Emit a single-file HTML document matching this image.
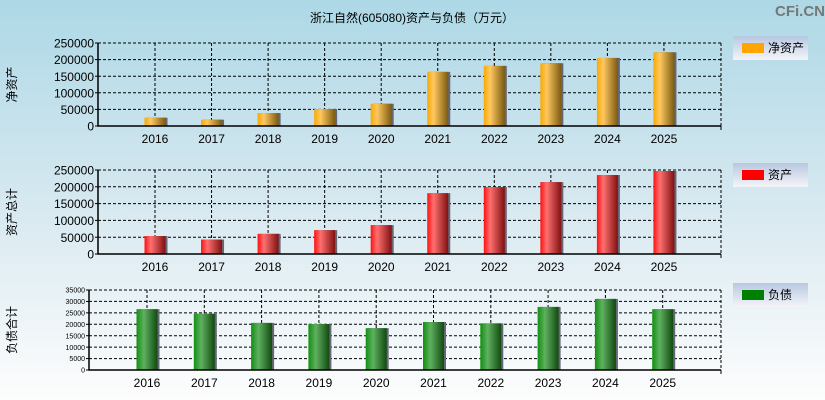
<!DOCTYPE html>
<html><head><meta charset="utf-8">
<style>
body{margin:0;width:825px;height:400px;overflow:hidden;font-family:"Liberation Sans","Noto Sans CJK SC",sans-serif;}
svg{display:block}
</style></head>
<body>
<svg id="c" width="825" height="400" xmlns="http://www.w3.org/2000/svg">
<defs>
<linearGradient id="bg" x1="0" y1="0" x2="0" y2="1">
<stop offset="0" stop-color="#add8e6"/><stop offset="0.5" stop-color="#d6e8f0"/><stop offset="1" stop-color="#fdfdfd"/></linearGradient>
<linearGradient id="lg" x1="0" y1="0" x2="0" y2="1"><stop offset="0" stop-color="#b8c8e0"/><stop offset="1" stop-color="#f4f4f8"/></linearGradient>
<linearGradient id="gO" x1="0" x2="1"><stop offset="0" stop-color="#f8a800"/><stop offset="0.3" stop-color="#ffc860"/><stop offset="1" stop-color="#7a5a10"/></linearGradient>
<linearGradient id="gR" x1="0" x2="1"><stop offset="0" stop-color="#ff1010"/><stop offset="0.3" stop-color="#ff7070"/><stop offset="1" stop-color="#801010"/></linearGradient>
<linearGradient id="gG" x1="0" x2="1"><stop offset="0" stop-color="#109010"/><stop offset="0.35" stop-color="#60b060"/><stop offset="1" stop-color="#104a10"/></linearGradient>
</defs>
<rect width="825" height="400" fill="url(#bg)"/>
<text x="412" y="22" text-anchor="middle" font-size="12">浙江自然(605080)资产与负债（万元）</text>
<text x="800" y="16" text-anchor="middle" font-size="15" font-weight="bold" fill="#777">CFi.CN</text>
<g id="plots"></g>
</svg>
<script>
const years = ['2016','2017','2018','2019','2020','2021','2022','2023','2024','2025'];
const netAssets = [25000,19000,39000,51000,67000,163000,181000,189000,205000,222000];
const totalAssets = [53500,43000,60000,71000,86000,181000,199000,214000,235000,247000];
const liabilities = [26600,24600,20600,20100,18300,21000,20400,27600,31100,26600];
const ticksBig = [0,50000,100000,150000,200000,250000];
const ticksSmall = [0,5000,10000,15000,20000,25000,30000,35000];

const NS='http://www.w3.org/2000/svg';
const root=document.getElementById('plots');
function mk(tag,attrs,parent){const e=document.createElementNS(NS,tag);for(const k in attrs)e.setAttribute(k,attrs[k]);(parent||root).appendChild(e);return e;}

function panel(cfg){
  const g=mk('g',{});
  
  
  const {x0,x1,y0,y1,max,ticks,vals,fill,first,step,bw,fs}=cfg;
  const ys=v=>y1-(v/max)*(y1-y0);
  const xs=i=>first+i*step;
  // grid
  ticks.forEach(t=>{
    if(t>0){const l=mk('line',{x1:x0,x2:x1,y1:ys(t),y2:ys(t),stroke:'#000','stroke-dasharray':'3,2','stroke-width':1},g);
    }
    const tx=mk('text',{x:x0-4,y:ys(t)+fs*0.38,'text-anchor':'end','font-size':fs,fill:'#000'},g);
    tx.textContent=t;
    
    const tk=mk('line',{x1:x0-3,x2:x0,y1:ys(t),y2:ys(t),stroke:'#000'},g);
    
  });
  years.forEach((yr,i)=>{
    const l=mk('line',{x1:xs(i),x2:xs(i),y1:y0,y2:y1,stroke:'#000','stroke-dasharray':'3,2'},g);
    
  });
  mk('line',{x1:x1,x2:x1,y1:y0,y2:y1+4,stroke:'#000','stroke-dasharray':'3,2'},g);
  // bars
  vals.forEach((v,i)=>{
    const sh=mk('rect',{x:xs(i)-bw/2+2,y:ys(v),width:bw,height:y1-ys(v),fill:'#667'},g);
    
    const b=mk('rect',{x:xs(i)-bw/2,y:ys(v),width:bw,height:y1-ys(v),fill:fill},g);
    
    const t=mk('text',{x:xs(i),y:y1+17,'text-anchor':'middle','font-size':12},g);
    t.textContent=years[i];
    
  });
  const ax=mk('path',{d:`M${x0} ${y0}V${y1}H${x1}`,stroke:'#000','stroke-width':1.5,fill:'none'},g);
  
  mk('line',{x1:x1,x2:x1,y1:y1,y2:y1+4,stroke:'#000'},g);
  // y title
  const yt=mk('text',{x:0,y:0,'font-size':12,'text-anchor':'middle',transform:`translate(${cfg.tx},${(y0+y1)/2}) rotate(-90)`},g);
  yt.textContent=cfg.title;
  
  // legend
  const lg=mk('g',{},g);
  
  mk('rect',{x:733,y:cfg.ly,width:75,height:24,fill:'url(#lg)'},lg);
  mk('rect',{x:742,y:cfg.ly+7,width:22,height:10,fill:cfg.lc},lg);
  const lt=mk('text',{x:768,y:cfg.ly+16,'font-size':12},lg);
  lt.textContent=cfg.title2||cfg.title;
}
panel({name:'net-assets',x0:98,x1:721,y0:43,y1:126,max:250000,ticks:ticksBig,vals:netAssets,fill:'url(#gO)',first:155,step:56.55,bw:21,fs:12,tx:16,title:'净资产',ly:36,lc:'#ffa500'});
panel({name:'total-assets',x0:98,x1:721,y0:170,y1:254,max:250000,ticks:ticksBig,vals:totalAssets,fill:'url(#gR)',first:155,step:56.55,bw:21,fs:12,tx:16,title:'资产总计',title2:'资产',ly:163,lc:'#ff0000'});
panel({name:'liabilities',x0:89,x1:721,y0:290,y1:370,max:35000,ticks:ticksSmall,vals:liabilities,fill:'url(#gG)',first:147,step:57.3,bw:21,fs:7,tx:16,title:'负债合计',title2:'负债',ly:283,lc:'#008000'});
</script>
</body></html>
